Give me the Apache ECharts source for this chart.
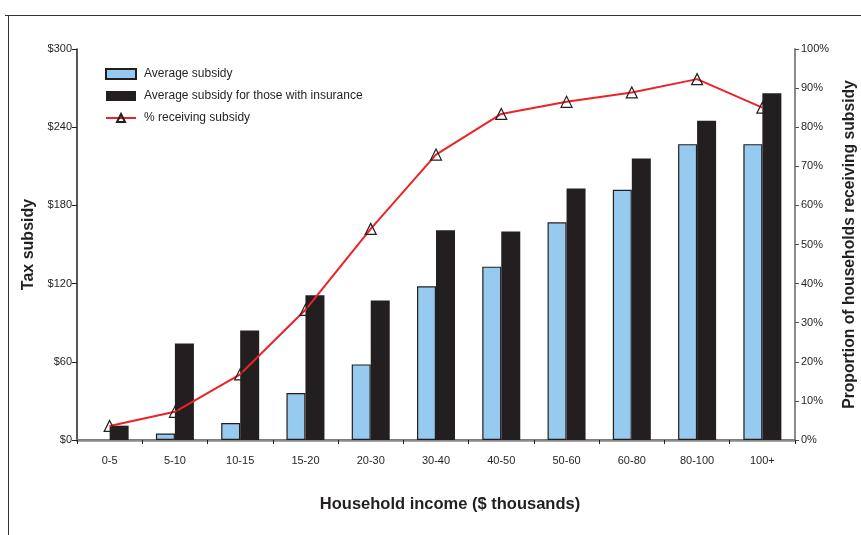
<!DOCTYPE html>
<html>
<head>
<meta charset="utf-8">
<script src="https://cdn.jsdelivr.net/npm/echarts@6/dist/echarts.min.js"></script>
<style>html,body{margin:0;padding:0;background:#fff;}#c{width:861px;height:535px;}</style>
</head>
<body>
<div id="c"></div>
<script>
const categories = ['0-5','5-10','10-15','15-20','20-30','30-40','40-50','50-60','60-80','80-100','100+'];
const avgSubsidy = [null, 5, 13, 36, 58, 118, 133, 167, 192, 227, 227];
const avgSubsidyInsured = [11, 74, 84, 111, 107, 161, 160, 193, 216, 245, 266];
const pctReceiving = [3.6, 7.2, 16.8, 33.3, 54, 73, 83.4, 86.5, 88.9, 92.3, 85];
const leftTicks = [0, 60, 120, 180, 240, 300];

const font = 'Liberation Sans, Arial, sans-serif';
const chart = echarts.init(document.getElementById('c'), null, {renderer: 'canvas'});
chart.setOption({
  animation: false,
  backgroundColor: '#fff',
  textStyle: {fontFamily: font},
  grid: {left: 77, right: 66, top: 49, bottom: 95, containLabel: false, outerBoundsMode: 'none'},
  legend: {
    orient: 'vertical', left: 100, top: 63, itemWidth: 30, itemHeight: 10, itemGap: 10,
    textStyle: {fontFamily: font, fontSize: 12, color: '#231f20', padding: [0, 0, 0, 3]},
    data: [
      {name: 'Average subsidy', icon: 'rect'},
      {name: 'Average subsidy for those with insurance', icon: 'rect'},
      {name: '% receiving subsidy'}
    ]
  },
  graphic: [
    {type: 'line', shape: {x1: 5, y1: 15.5, x2: 861, y2: 15.5}, style: {stroke: '#333', lineWidth: 1}},
    {type: 'line', shape: {x1: 8.5, y1: 15, x2: 8.5, y2: 535}, style: {stroke: '#333', lineWidth: 1}}
  ],
  xAxis: [{
    type: 'category', data: categories, position: 'bottom',
    name: 'Household income ($ thousands)', nameLocation: 'middle', nameGap: 56,
    nameTextStyle: {fontFamily: font, fontSize: 16.5, fontWeight: 'bold', color: '#231f20', padding: [0, 0, 0, 28]},
    axisLine: {lineStyle: {color: '#231f20', width: 1.5}},
    axisTick: {show: true, length: 4, lineStyle: {color: '#231f20'}},
    axisLabel: {fontFamily: font, fontSize: 11, color: '#231f20', margin: 15}
  }, {
    type: 'category', data: categories, position: 'top',
    axisLine: {lineStyle: {color: '#8a8a8a', width: 2.5}},
    axisTick: {show: false}, axisLabel: {show: false}
  }],
  yAxis: [{
    type: 'value', min: 0, max: 300, interval: 60, position: 'left',
    name: 'Tax subsidy', nameLocation: 'middle', nameGap: 38,
    nameTextStyle: {fontFamily: font, fontSize: 16, fontWeight: 'bold', color: '#231f20'},
    axisLine: {show: true, lineStyle: {color: '#231f20', width: 1.5}},
    axisTick: {show: true, length: 5, lineStyle: {color: '#231f20'}},
    axisLabel: {fontFamily: font, fontSize: 11, color: '#231f20', margin: 5,
      formatter: v => leftTicks.includes(v) ? '$' + v : ''},
    splitLine: {show: false}
  }, {
    type: 'value', min: 0, max: 100, interval: 10, position: 'right',
    name: 'Proportion of households receiving subsidy', nameLocation: 'middle', nameGap: 47,
    nameTextStyle: {fontFamily: font, fontSize: 15.7, fontWeight: 'bold', color: '#231f20'},
    axisLine: {show: true, lineStyle: {color: '#8a8a8a', width: 2}},
    axisTick: {show: true, length: 4, lineStyle: {color: '#555'}},
    axisLabel: {fontFamily: font, fontSize: 11, color: '#231f20', margin: 6, formatter: '{value}%'},
    splitLine: {show: false}
  }],
  series: [{
    name: 'Average subsidy', type: 'bar', data: avgSubsidy, barWidth: 19, barGap: '0%',
    itemStyle: {color: '#96caee', borderColor: '#231f20', borderWidth: 1.2}
  }, {
    name: 'Average subsidy for those with insurance', type: 'bar', data: avgSubsidyInsured, barWidth: 19,
    itemStyle: {color: '#231f20'}
  }, {
    name: '% receiving subsidy', type: 'line', yAxisIndex: 1, data: pctReceiving,
    symbol: 'triangle', symbolSize: 11, z: 5,
    lineStyle: {color: '#ec2227', width: 2},
    itemStyle: {color: 'rgba(255,255,255,0)', borderColor: '#231f20', borderWidth: 1.2}
  }]
});
</script>
</body>
</html>
